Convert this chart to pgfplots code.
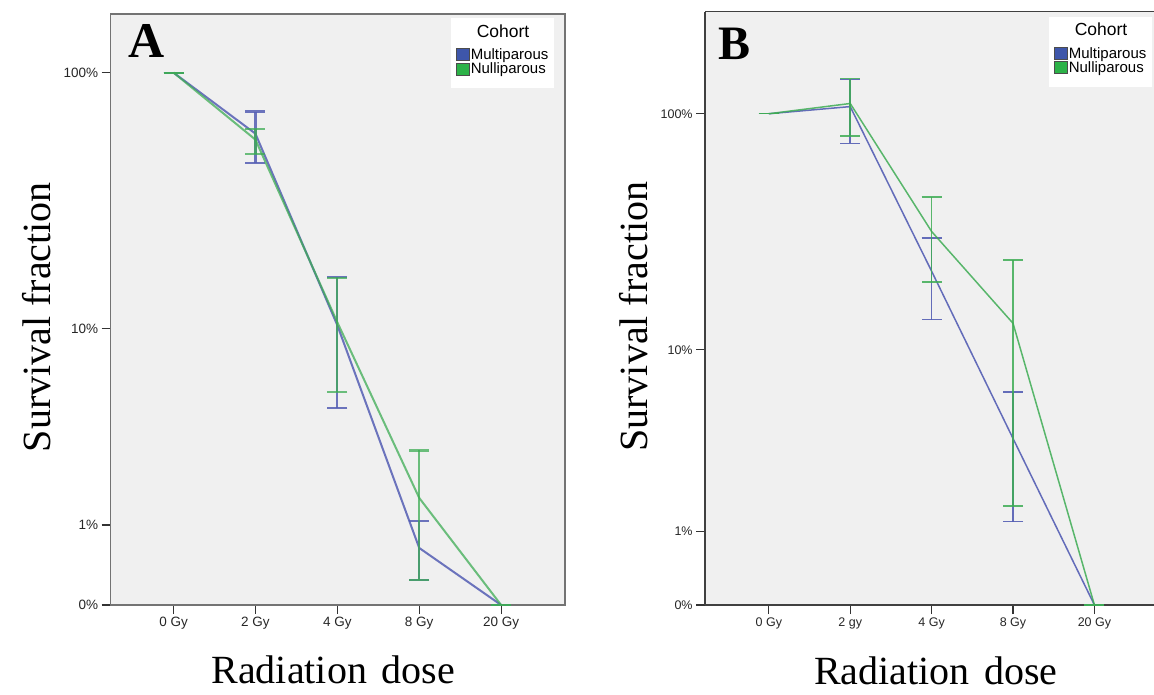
\documentclass[border=0pt]{standalone}
\usepackage{pgfplots}
\pgfplotsset{compat=1.18}
\usepackage{pgfplotstable}
\usepackage{fontspec}
\setmainfont{Liberation Serif}
\newfontfamily\arialf{Liberation Sans}
\definecolor{blueC}{RGB}{84,94,180}
\definecolor{greenC}{RGB}{62,172,84}
\definecolor{bgC}{RGB}{240,240,240}
\definecolor{swB}{RGB}{62,86,170}
\definecolor{swG}{RGB}{44,178,72}

% survival fraction in percent: mean, lower and upper end of the error bar
\pgfplotstableread{
x m lo hi
0 100 100 100
1 58.5 45.1 71.1
2 10.3 4.5 16.2
3 0.64 0.24 1.07
4 0 0 0
}\AMulti
\pgfplotstableread{
x m lo hi
0 100 100 100
1 55.5 49.0 60.9
2 10.6 5.35 16.0
3 1.53 0.24 2.82
4 0 0 0
}\ANulli
\pgfplotstableread{
x m lo hi
0 100 100 100
1 107 75.5 138.5
2 22 13.6 30.5
3 3.78 1.19 6.38
4 0 0 0
}\BMulti
\pgfplotstableread{
x m lo hi
0 100 100 100
1 110.2 80.9 139.5
2 32.4 19.8 45.1
3 13.1 1.54 24.6
4 0 0 0
}\BNulli

\pgfplotsset{
  panel/.style={
    scale only axis,
    axis background/.style={fill=bgC},
    tick align=outside,
    xtick pos=bottom, ytick pos=left,
    xtick={0,1,2,3,4},
    ytick={0,0.30103,1.04139,2.00432},
    yticklabels={0\%,1\%,10\%,100\%},
    ymin=0,
    major tick length=9pt,
    every tick/.style={black!80, line width=1.1pt},
    ticklabel style={font=\arialf\fontsize{13.5}{15}\selectfont, text=black!85},
    label style={font=\fontsize{40}{46}\selectfont},
    legend cell align=left,
  },
  myerr/.style={error bars/.cd, y dir=both, y explicit,
    error bar style={line width=#1},
    error mark options={rotate=90, mark size=10pt, line width=#1}},
  table/tab/.style={x=x, y expr={log10(1+\thisrow{m})},
    y error plus expr={log10(1+\thisrow{hi})-log10(1+\thisrow{m})},
    y error minus expr={log10(1+\thisrow{m})-log10(1+\thisrow{lo})}},
  cohortlegend/.style={
    fill=white, draw=none, font=\arialf\fontsize{15}{16}\selectfont,
    nodes={inner sep=1pt}, row sep=0pt, inner xsep=5pt, inner ysep=5pt},
}
\newcommand{\cohortentries}{%
\addlegendimage{empty legend}
\addlegendentry{\hspace{6pt}\fontsize{17.5}{19}\selectfont Cohort}
\addlegendimage{empty legend}
\addlegendentry{\rule{0pt}{4.3pt}}
\addlegendimage{legend image code/.code={\draw[fill=swB, draw=black!70, line width=0.6pt] (0pt,-6pt) rectangle (13.5pt,6pt);}}
\addlegendentry{Multiparous}
\addlegendimage{legend image code/.code={\draw[fill=swG, draw=black!70, line width=0.6pt] (0pt,-6pt) rectangle (13.5pt,6pt);}}
\addlegendentry{Nulliparous}
\addlegendimage{empty legend}
\addlegendentry{\rule{0pt}{3.7pt}\hspace{82pt}}}

\begin{document}
\begin{tikzpicture}
\useasboundingbox (0pt,0pt) rectangle (1154pt,694pt);

% ---------------- Panel A ----------------
\begin{axis}[panel,
  at={(110.7pt,89pt)}, anchor=south west,
  width=454.3pt, height=591pt,
  xmin=-0.767, xmax=4.78, ymax=2.225,
  axis line style={black!55, line width=1.4pt},
  xticklabels={0 Gy,2 Gy,4 Gy,8 Gy,20 Gy},
  xlabel={Radiation\hspace{0.12em} dose},
  xlabel style={at={(axis description cs:0.49,-0.132)}, anchor=base},
  ylabel={Survival fraction},
  ylabel style={at={(axis description cs:-0.132,0.487)}, anchor=base, rotate=0},
  legend style={cohortlegend, at={(axis description cs:0.748,0.993)}, anchor=north west},
]
\cohortentries
\addplot[forget plot, blueC, line width=2pt, opacity=0.85, myerr=2.2pt] table[tab] {\AMulti};
\addplot[forget plot, greenC, line width=2pt, opacity=0.75, myerr=2.2pt] table[tab] {\ANulli};
\node[font=\bfseries\fontsize{50}{56}\selectfont, anchor=base] at (axis description cs:0.078,0.926) {A};
\end{axis}

% ---------------- Panel B ----------------
\begin{axis}[panel,
  at={(705.1pt,89pt)}, anchor=south west,
  width=448.9pt, height=593.3pt,
  xmin=-0.783, xmax=4.732, ymax=2.4206,
  axis x line*=bottom, axis y line*=left,
  axis line style={black!75, line width=1.4pt, -},
  ticklabel style={font=\arialf\fontsize{12.5}{14}\selectfont},
  xticklabels={0 Gy,2 gy,4 Gy,8 Gy,20 Gy},
  xlabel={Radiation\hspace{0.12em} dose},
  xlabel style={at={(axis description cs:0.514,-0.1348)}, anchor=base},
  ylabel={Survival fraction},
  ylabel style={at={(axis description cs:-0.128,0.486)}, anchor=base, rotate=0},
  legend style={cohortlegend, at={(axis description cs:0.765,0.991)}, anchor=north west},
]
\cohortentries
\addplot[forget plot, blueC, line width=1.5pt, opacity=0.9, myerr=1.5pt] table[tab] {\BMulti};
\addplot[forget plot, greenC, line width=1.5pt, opacity=0.85, myerr=1.5pt] table[tab] {\BNulli};
\draw[black!75, line width=1.4pt] (axis description cs:0,1) -- (axis description cs:1,1);
\node[font=\bfseries\fontsize{48}{54}\selectfont, anchor=base] at (axis description cs:0.0644,0.9186) {B};
\end{axis}
\end{tikzpicture}
\end{document}
